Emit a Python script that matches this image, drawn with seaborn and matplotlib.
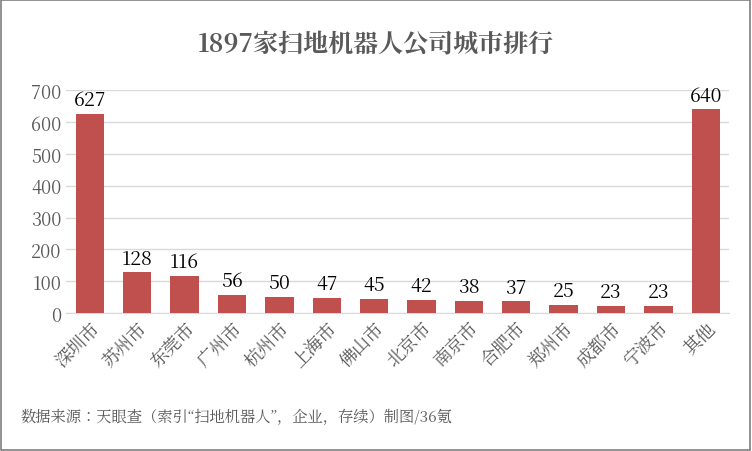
import matplotlib
matplotlib.use("Agg")
import matplotlib.pyplot as plt
import matplotlib.font_manager as fm
import seaborn as sns
import pandas as pd
from matplotlib.patches import Rectangle

cities = ["深圳市","苏州市","东莞市","广州市","杭州市","上海市","佛山市","北京市","南京市","合肥市","郑州市","成都市","宁波市","其他"]
counts = [627,128,116,56,50,47,45,42,38,37,25,23,23,640]
yticks = [0,100,200,300,400,500,600,700]

cjk = [f.name for f in fm.fontManager.ttflist if "CJK" in f.name]
if not cjk:
    for p in fm.findSystemFonts():
        if "CJK" in p or "cjk" in p.lower():
            try:
                fm.fontManager.addfont(p)
            except Exception:
                pass
    cjk = [f.name for f in fm.fontManager.ttflist if "CJK" in f.name]
pref = [n for n in cjk if "SC" in n] or cjk
plt.rcParams["font.family"] = "sans-serif"
plt.rcParams["font.sans-serif"] = pref[:1] + ["Noto Sans CJK SC", "DejaVu Sans"]

fig = plt.figure(figsize=(7.52,4.52), dpi=100)
ax = fig.add_axes([0.088,0.305,0.882,0.493])
df = pd.DataFrame({"city":cities,"n":counts})
sns.barplot(data=df, x="city", y="n", color="#C0504D", saturation=1, width=0.6, ax=ax, zorder=3)
ax.set_ylim(0,700)
ax.set_yticks(yticks)
ax.set_xlim(-0.5,len(cities)-0.5)
ax.grid(axis="y", color="#D9D9D9", lw=1, zorder=0)
for s in ax.spines.values(): s.set_visible(False)
ax.spines["bottom"].set_visible(True); ax.spines["bottom"].set_color("#D9D9D9")
ax.tick_params(length=0, labelsize=13, colors="#595959")
ax.set_xticks(range(len(cities)))
ax.set_xticklabels(cities, rotation=45, ha="right", rotation_mode="anchor")
ax.set_xlabel(""); ax.set_ylabel("")
for i,v in enumerate(counts):
    ax.text(i, v+12, str(v), ha="center", va="bottom", fontsize=14, color="black", clip_on=False)
fig.text(0.5, 0.90, "1897家扫地机器人公司城市排行", ha="center", va="center", fontsize=18, fontweight="bold", color="#595959")
fig.text(0.027, 0.075, "数据来源：天眼查（索引“扫地机器人”，企业，存续）制图/36氪", ha="left", va="center", fontsize=11, color="#595959")
fig.patches.append(Rectangle((0.001,0.002),0.997,0.995, transform=fig.transFigure, fill=False, ec="#7F7F7F", lw=1.2))
fig.savefig("out.png", dpi=100)
